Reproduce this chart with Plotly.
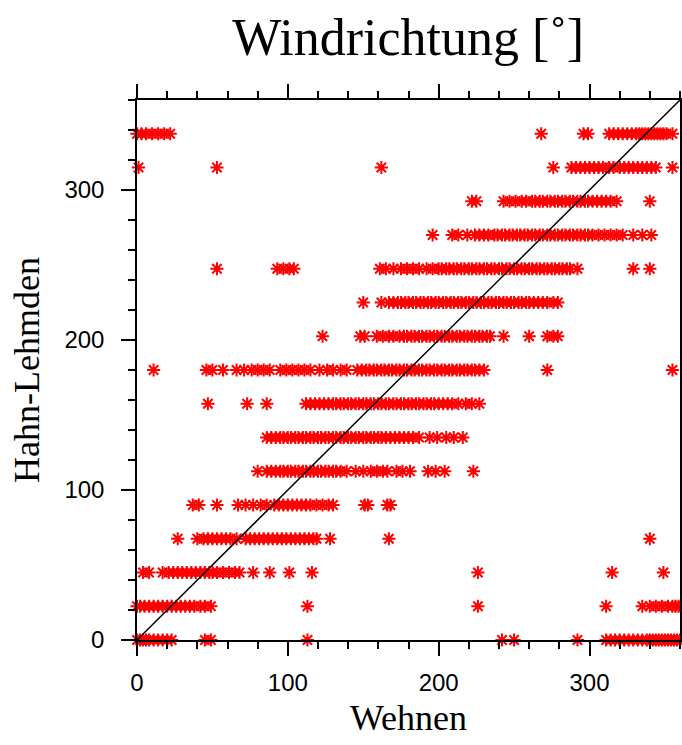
import plotly.graph_objects as go

# Wind direction classes at Hahn-Lehmden (y) and observed directions at Wehnen (x)
y_levels = [0, 22.5, 45, 67.5, 90, 112.5, 135, 157.5, 180, 202.5, 225, 247.5, 270, 292.5, 315, 337.5]

x_000 = [0, 2, 4, 6, 8, 11, 14, 17, 20, 23, 45, 49, 113, 242, 250, 292, 311, 314, 317, 320, 323, 326,
         329, 332, 335, 338, 340, 342, 344, 346, 348, 350, 352, 354, 356, 358, 360]
x_022 = [0, 2, 5, 8, 11, 14, 17, 20, 23, 26, 29, 32, 35, 38, 42, 45, 49, 113, 226, 311, 335, 340, 344,
         348, 352, 355, 357, 359]
x_045 = [4, 8, 17, 21, 24, 27, 30, 33, 36, 39, 42, 45, 48, 50, 53, 57, 61, 65, 68, 77, 88, 101, 116,
         226, 315, 349]
x_067 = [27, 40, 44, 47, 50, 53, 56, 59, 62, 66, 72, 75, 78, 81, 84, 87, 90, 93, 96, 99, 102, 105, 108,
         111, 114, 117, 119, 128, 167, 340]
x_090 = [37, 41, 53, 67, 72, 77, 82, 86, 91, 94, 97, 100, 103, 106, 109, 112, 115, 119, 123, 127, 130,
         151, 153, 166, 168]
x_112 = [80, 86, 89, 92, 95, 97, 100, 102, 105, 107, 110, 112, 115, 117, 120, 122, 125, 127, 130, 132,
         135, 139, 145, 150, 155, 159, 163, 166, 172, 176, 181, 193, 198, 204, 223]
x_135 = [86, 89, 92, 95, 97, 100, 102, 105, 107, 110, 112, 115, 117, 120, 122, 125, 127, 130, 132, 135,
         137, 140, 142, 145, 147, 150, 152, 155, 157, 160, 162, 165, 168, 171, 174, 177, 180, 183, 187,
         194, 199, 205, 210, 216]
x_157 = [47, 73, 86, 112, 115, 118, 121, 124, 127, 130, 132, 135, 137, 140, 142, 145, 147, 150, 152, 155,
         157, 160, 162, 165, 167, 170, 172, 175, 177, 180, 182, 185, 187, 190, 192, 195, 197, 200, 203,
         206, 209, 213, 218, 222, 227]
x_180 = [11, 46, 50, 57, 66, 71, 76, 80, 84, 88, 95, 99, 103, 107, 111, 115, 121, 126, 130, 135, 139,
         146, 149, 152, 154, 157, 159, 162, 164, 167, 169, 172, 174, 177, 179, 182, 184, 187, 189, 192,
         194, 197, 199, 202, 204, 207, 209, 212, 214, 217, 219, 222, 224, 227, 230, 272, 355]
x_202 = [123, 148, 151, 159, 163, 167, 170, 174, 177, 179, 182, 184, 187, 189, 192, 194, 197, 199, 202,
         204, 207, 209, 212, 214, 217, 219, 222, 224, 227, 229, 232, 234, 243, 260, 272, 276, 279]
x_225 = [150, 162, 167, 170, 173, 175, 178, 180, 183, 185, 188, 190, 193, 195, 198, 200, 203, 205, 208,
         210, 213, 215, 218, 220, 223, 225, 228, 230, 233, 235, 238, 240, 243, 245, 248, 250, 253, 255,
         258, 260, 263, 266, 269, 272, 276, 279]
x_247 = [53, 93, 97, 101, 104, 161, 165, 170, 175, 179, 183, 187, 192, 196, 200, 202, 205, 207, 210, 212,
         215, 217, 220, 222, 225, 227, 230, 232, 235, 237, 240, 242, 245, 247, 250, 252, 255, 257, 260,
         262, 265, 267, 270, 272, 275, 277, 280, 282, 285, 287, 292, 329, 340]
x_270 = [196, 209, 213, 219, 224, 227, 230, 233, 237, 239, 242, 244, 247, 249, 252, 254, 257, 259, 262,
         264, 267, 269, 272, 274, 277, 279, 282, 284, 287, 289, 292, 294, 297, 299, 302, 306, 310, 314,
         318, 322, 329, 335, 341]
x_292 = [222, 225, 243, 247, 251, 255, 258, 262, 264, 267, 269, 272, 274, 277, 279, 282, 284, 287, 289,
         292, 294, 297, 299, 302, 305, 308, 311, 314, 318, 340]
x_315 = [1, 53, 162, 276, 288, 291, 294, 297, 300, 303, 306, 309, 313, 316, 320, 323, 326, 329, 332, 335,
         338, 341, 344, 355]
x_337 = [0, 3, 6, 10, 14, 18, 22, 268, 296, 299, 313, 316, 319, 322, 325, 328, 331, 333, 335, 337, 339,
         341, 343, 345, 347, 349, 351, 355]

x_rows = [x_000, x_022, x_045, x_067, x_090, x_112, x_135, x_157, x_180, x_202, x_225, x_247,
          x_270, x_292, x_315, x_337]

diag_x = [0, 360]
diag_y = [0, 360]

xs, ys = [], []
for lev, row in zip(y_levels, x_rows):
    xs.extend(row)
    ys.extend([lev] * len(row))

fig = go.Figure()
fig.add_trace(go.Scatter(
    x=xs, y=ys, mode="markers", cliponaxis=False,
    marker=dict(symbol="asterisk-open", size=11, color="#ff0000",
                line=dict(color="#ff0000", width=2)),
    showlegend=False,
))
fig.add_trace(go.Scatter(
    x=diag_x, y=diag_y, mode="lines", line=dict(color="black", width=1.5),
    showlegend=False, cliponaxis=False,
))

axis_common = dict(
    range=[0, 360], showgrid=False, zeroline=False, showline=True, linecolor="black",
    linewidth=1.5, mirror="allticks", ticks="outside", ticklen=14, tickwidth=1.5,
    tickcolor="black", dtick=100, tick0=0,
    minor=dict(dtick=20, tick0=0, ticks="outside", ticklen=7, tickwidth=1.5, tickcolor="black"),
    tickfont=dict(family="Liberation Sans, Arial", size=24, color="black"),
)

fig.update_layout(
    width=682, height=745,
    margin=dict(l=137, r=2, t=100, b=105, autoexpand=False),
    paper_bgcolor="white", plot_bgcolor="white",
    title=dict(text="Windrichtung [˚]", x=0.5985, xanchor="center", y=0.951, yanchor="middle",
               font=dict(family="Liberation Serif, Times New Roman", size=52, color="black")),
    xaxis=dict(axis_common, title=dict(text="Wehnen", standoff=10,
               font=dict(family="Liberation Serif, Times New Roman", size=36, color="black")),
               ticklabelstandoff=6),
    yaxis=dict(axis_common, title=dict(text="Hahn-Lehmden", standoff=14,
               font=dict(family="Liberation Serif, Times New Roman", size=36, color="black")),
               ticklabelstandoff=12),
)

fig.write_html("out.html")
